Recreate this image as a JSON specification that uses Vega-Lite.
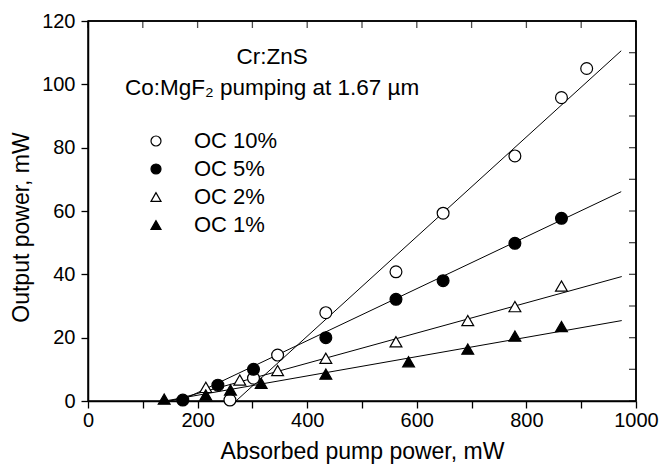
{
  "$schema": "https://vega.github.io/schema/vega-lite/v6.json",
  "width": 548,
  "height": 380,
  "autosize": {"type": "none"},
  "padding": {"left": 88, "top": 21, "right": 24, "bottom": 66},
  "background": "white",
  "config": {
    "font": "Liberation Sans",
    "view": {"stroke": "black", "strokeWidth": 1.5},
    "axis": {"grid": false, "labelFlush": false, "domainColor": "black", "tickColor": "black", "labelColor": "black", "titleColor": "black", "domainWidth": 1.5, "tickWidth": 1.3, "labelFont": "Liberation Sans", "titleFont": "Liberation Sans", "titleFontWeight": "normal"}
  },
  "datasets": {
    "pts": [
      {"series": "OC 10%", "x": 259, "y": 0.3},
      {"series": "OC 10%", "x": 302, "y": 7.2},
      {"series": "OC 10%", "x": 346, "y": 14.5},
      {"series": "OC 10%", "x": 434, "y": 27.9},
      {"series": "OC 10%", "x": 562, "y": 40.8},
      {"series": "OC 10%", "x": 648, "y": 59.3},
      {"series": "OC 10%", "x": 779, "y": 77.4},
      {"series": "OC 10%", "x": 864, "y": 95.8},
      {"series": "OC 10%", "x": 910, "y": 105},
      {"series": "OC 5%", "x": 173, "y": 0.3},
      {"series": "OC 5%", "x": 237, "y": 5},
      {"series": "OC 5%", "x": 302, "y": 10},
      {"series": "OC 5%", "x": 434, "y": 20},
      {"series": "OC 5%", "x": 562, "y": 32.1},
      {"series": "OC 5%", "x": 648, "y": 38},
      {"series": "OC 5%", "x": 779, "y": 49.8},
      {"series": "OC 5%", "x": 864, "y": 57.7},
      {"series": "OC 2%", "x": 215, "y": 4.3},
      {"series": "OC 2%", "x": 277, "y": 6.6},
      {"series": "OC 2%", "x": 346, "y": 9.6},
      {"series": "OC 2%", "x": 434, "y": 13.5},
      {"series": "OC 2%", "x": 562, "y": 18.7},
      {"series": "OC 2%", "x": 693, "y": 25.4},
      {"series": "OC 2%", "x": 779, "y": 29.8},
      {"series": "OC 2%", "x": 864, "y": 36.3},
      {"series": "OC 1%", "x": 139, "y": 0.6},
      {"series": "OC 1%", "x": 215, "y": 1.9},
      {"series": "OC 1%", "x": 260, "y": 3.5},
      {"series": "OC 1%", "x": 316, "y": 5.6},
      {"series": "OC 1%", "x": 434, "y": 8.5},
      {"series": "OC 1%", "x": 585, "y": 12.4},
      {"series": "OC 1%", "x": 693, "y": 16.4},
      {"series": "OC 1%", "x": 779, "y": 20.5},
      {"series": "OC 1%", "x": 864, "y": 23.5}
    ],
    "fits": [
      {"series": "OC 10%", "x": 270, "y": 0},
      {"series": "OC 10%", "x": 973, "y": 110.6},
      {"series": "OC 5%", "x": 168, "y": 0},
      {"series": "OC 5%", "x": 973, "y": 66.1},
      {"series": "OC 2%", "x": 150, "y": 0},
      {"series": "OC 2%", "x": 974, "y": 39.3},
      {"series": "OC 1%", "x": 140, "y": 0},
      {"series": "OC 1%", "x": 974, "y": 25.4}
    ],
    "notes": [
      {"text": "Cr:ZnS", "x": 336, "y": 108.6},
      {"text": "Co:MgF₂ pumping at 1.67 µm", "x": 336, "y": 98.8}
    ],
    "xticks": [{"v": 0}, {"v": 100}, {"v": 200}, {"v": 300}, {"v": 400}, {"v": 500}, {"v": 600}, {"v": 700}, {"v": 800}, {"v": 900}, {"v": 1000}],
    "yticks": [{"v": 0}, {"v": 10}, {"v": 20}, {"v": 30}, {"v": 40}, {"v": 50}, {"v": 60}, {"v": 70}, {"v": 80}, {"v": 90}, {"v": 100}, {"v": 110}, {"v": 120}],
    "frame": [{"x0": 0, "x1": 1000, "y0": 0, "y1": 120}]
  },
  "layer": [
    {
      "data": {"name": "fits"},
      "mark": {"type": "line", "color": "black", "strokeWidth": 1},
      "encoding": {
        "x": {"field": "x", "type": "quantitative", "scale": {"domain": [0, 1000], "nice": false},
          "axis": {"orient": "bottom", "values": [0,100,200,300,400,500,600,700,800,900,1000], "labelExpr": "datum.value % 200 == 0 ? datum.label : ''", "tickSize": 7, "labelFontSize": 20, "labelPadding": 2, "title": "Absorbed pump power, mW", "titleFontSize": 23, "titlePadding": 10, "format": "d", "labelFlush": false}},
        "y": {"field": "y", "type": "quantitative", "scale": {"domain": [0, 120], "nice": false},
          "axis": {"orient": "left", "values": [0,10,20,30,40,50,60,70,80,90,100,110,120], "labelExpr": "datum.value % 20 == 0 ? datum.label : ''", "tickSize": 7, "labelFontSize": 20, "labelPadding": 6, "title": "Output power, mW", "titleFontSize": 23, "titlePadding": 8, "titleY": 206, "labelFlush": false}},
        "detail": {"field": "series"}
      }
    },
    {
      "data": {"name": "pts"},
      "mark": {"type": "point", "filled": false, "strokeWidth": 1.2, "size": 140, "opacity": 1},
      "encoding": {
        "x": {"field": "x", "type": "quantitative"},
        "y": {"field": "y", "type": "quantitative"},
        "stroke": {"field": "series", "type": "nominal",
          "scale": {"domain": ["OC 10%", "OC 5%", "OC 2%", "OC 1%"], "range": ["black", "black", "black", "black"]},
          "legend": {"title": null, "orient": "none", "legendX": 57, "legendY": 109, "labelFontSize": 22, "labelFont": "Liberation Sans", "labelColor": "black", "symbolSize": 100, "symbolStrokeWidth": 1.2, "labelOffset": 27, "rowPadding": 6}},
        "shape": {"field": "series", "type": "nominal",
          "scale": {"domain": ["OC 10%", "OC 5%", "OC 2%", "OC 1%"], "range": ["circle", "circle", "triangle-up", "triangle-up"]},
          "legend": {"title": null, "orient": "none", "legendX": 57, "legendY": 109, "labelFontSize": 22, "labelFont": "Liberation Sans", "labelColor": "black", "symbolSize": 100, "symbolStrokeWidth": 1.2, "labelOffset": 27, "rowPadding": 6}},
        "fill": {"field": "series", "type": "nominal",
          "scale": {"domain": ["OC 10%", "OC 5%", "OC 2%", "OC 1%"], "range": ["white", "black", "white", "black"]},
          "legend": {"title": null, "orient": "none", "legendX": 57, "legendY": 109, "labelFontSize": 22, "labelFont": "Liberation Sans", "labelColor": "black", "symbolSize": 100, "symbolStrokeWidth": 1.2, "labelOffset": 27, "rowPadding": 6}}
      }
    },
    {
      "data": {"name": "notes"},
      "mark": {"type": "text", "fontSize": 22.5, "font": "Liberation Sans", "color": "black", "align": "center", "baseline": "middle"},
      "encoding": {
        "x": {"field": "x", "type": "quantitative"},
        "y": {"field": "y", "type": "quantitative"},
        "text": {"field": "text"}
      }
    },
    {
      "data": {"name": "frame"},
      "mark": {"type": "rule", "stroke": "black", "strokeWidth": 1.5},
      "encoding": {
        "x": {"field": "x0", "type": "quantitative"},
        "x2": {"field": "x1"},
        "y": {"field": "y1", "type": "quantitative"}
      }
    },
    {
      "data": {"name": "frame"},
      "mark": {"type": "rule", "stroke": "black", "strokeWidth": 1.5},
      "encoding": {
        "y": {"field": "y0", "type": "quantitative"},
        "y2": {"field": "y1"},
        "x": {"field": "x1", "type": "quantitative"}
      }
    },
    {
      "data": {"name": "xticks"},
      "mark": {"type": "tick", "color": "black", "orient": "vertical", "size": 7, "thickness": 1.3, "yOffset": 3.5},
      "encoding": {
        "x": {"field": "v", "type": "quantitative"},
        "y": {"datum": 120, "type": "quantitative"}
      }
    },
    {
      "data": {"name": "yticks"},
      "mark": {"type": "tick", "color": "black", "orient": "horizontal", "size": 7, "thickness": 1.3, "xOffset": -3.5},
      "encoding": {
        "y": {"field": "v", "type": "quantitative"},
        "x": {"datum": 1000, "type": "quantitative"}
      }
    }
  ]
}
